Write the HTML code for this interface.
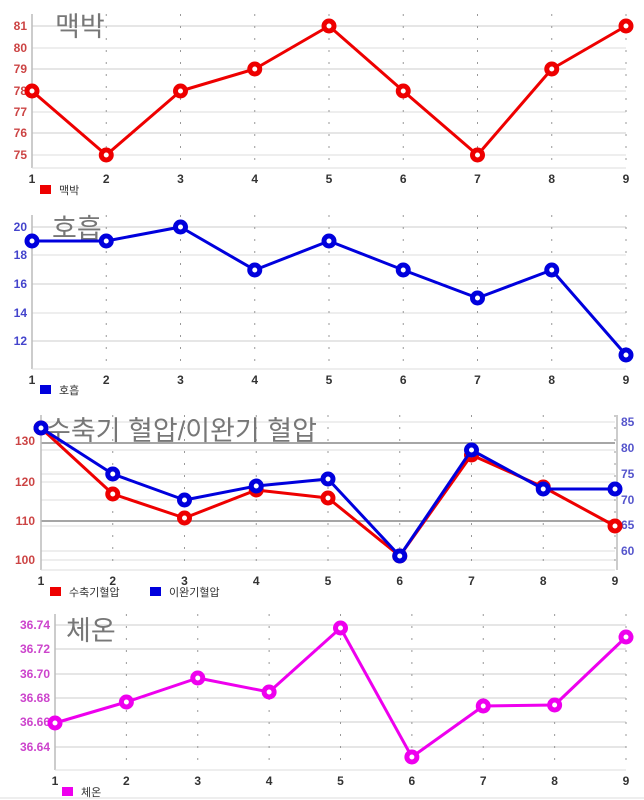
<!DOCTYPE html>
<html><head><meta charset="utf-8"><style>
html,body{margin:0;padding:0;background:#fff;width:644px;height:800px;overflow:hidden}
svg{display:block}
text{font-family:"Liberation Sans","Noto Sans CJK KR",sans-serif}
</style></head><body>
<svg id="s" width="644" height="800" xmlns="http://www.w3.org/2000/svg"></svg>
<script>
const s=document.getElementById('s');let h='';
function L(x1,y1,x2,y2,c,w,d){h+=`<line x1="${x1}" y1="${y1}" x2="${x2}" y2="${y2}" stroke="${c}" stroke-width="${w}"${d?` stroke-dasharray="${d}"`:''}/>`;}
function T(x,y,t,c,sz,a,extra){h+=`<text x="${x}" y="${y}" fill="${c}" font-size="${sz}" text-anchor="${a||'start'}"${extra||''}>${t}</text>`;}
function series(xs,ys,c){h+=`<polyline points="${xs.map((x,i)=>x+','+ys[i]).join(' ')}" fill="none" stroke="${c}" stroke-width="3" stroke-linejoin="round"/>`;
 xs.forEach((x,i)=>{h+=`<circle cx="${x}" cy="${ys[i]}" r="5" fill="#fff" stroke="${c}" stroke-width="5"/>`;});}
function chart(o){
 const xs=[];for(let i=0;i<9;i++)xs.push(o.x0+(o.x1-o.x0)*i/8);
 o.grid.forEach(g=>L(o.x0,g[0],o.x1,g[0],g[1]||'#ddd',g[2]||1));
 xs.forEach((x,i)=>{if(i>0)L(x,o.top,x,o.bot,'#999',1,'2,10');T(x,o.bot+15,i+1,'#333',12,'middle',' font-weight="bold"');});
 L(o.x0,o.top,o.x0,o.bot,'#bbb',1.5);L(o.x0,o.bot,o.x1,o.bot,'#ddd',1);
 if(o.right)L(o.right,o.top,o.right,o.bot,'#bbb',1.5);
 o.yl.forEach(l=>T(o.lx,l[0]+4,l[1],o.lc,12,'end',' font-weight="bold"'));
 if(o.yr)o.yr.forEach(l=>T(o.right+4,l[0]+4,l[1],'#55c',12,'start',' font-weight="bold"'));
 T(o.tx,o.ty,o.title,'#777',27,'start');
 o.series.forEach(se=>series(xs,se[0],se[1]));
 o.leg.forEach(l=>{h+=`<rect x="${l[0]}" y="${o.legy-4}" width="11" height="9" fill="${l[2]}"/>`;T(l[0]+19,o.legy+5,l[1],'#333',11);});
}
chart({x0:32,x1:626,top:14,bot:168,lx:27,lc:'#c44',title:'맥박',tx:55,ty:36,
 grid:[[26,'#ccc'],[48],[69,'#ccc'],[91],[112],[133,'#ccc'],[155]],
 yl:[[26,81],[48,80],[69,79],[91,78],[112,77],[133,76],[155,75]],
 series:[[[91,155,91,69,26,91,155,69,26],'#e00']],legy:189,leg:[[40,'맥박','#e00']]});
chart({x0:32,x1:626,top:215,bot:369,lx:27,lc:'#44c',title:'호흡',tx:52,ty:238,
 grid:[[227,'#ccc'],[255],[284,'#ccc'],[313],[341,'#ccc']],
 yl:[[227,20],[255,18],[284,16],[313,14],[341,12]],
 series:[[[241,241,227,270,241,270,298,270,355],'#00d']],legy:389,leg:[[40,'호흡','#00d']]});
chart({x0:41,x1:615,right:617,top:415,bot:570,lx:35,lc:'#c44',title:'수축기 혈압/이완기 혈압',tx:46,ty:440,
 grid:[[422],[443,'#888',1.5],[450],[474],[482],[500],[521,'#888',1.5],[526],[551],[560]],
 yl:[[441,130],[482,120],[521,110],[560,100]],
 yr:[[422,85],[448,80],[474,75],[500,70],[525,65],[551,60]],
 series:[[[428,494,518,490,498,556,455,487,526],'#e00'],[[428,474,500,486,479,556,450,489,489],'#00d']],
 legy:591,leg:[[50,'수축기혈압','#e00'],[150,'이완기혈압','#00d']]});
chart({x0:55,x1:626,top:614,bot:770,lx:50,lc:'#c4c',title:'체온',tx:66,ty:640,
 grid:[[625,'#ccc'],[649,'#ccc'],[674,'#ccc'],[698,'#ccc'],[722,'#ccc'],[747,'#ccc']],
 yl:[[625,'36.74'],[649,'36.72'],[674,'36.70'],[698,'36.68'],[722,'36.66'],[747,'36.64']],
 series:[[[723,702,678,692,628,757,706,705,637],'#e0e']],legy:791,leg:[[62,'체온','#e0e']]});
L(0,798,644,798,'#ddd',1);
s.innerHTML=h;
</script>
</body></html>
